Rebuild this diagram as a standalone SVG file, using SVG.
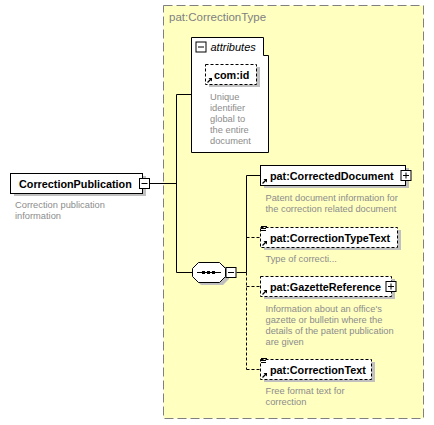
<svg xmlns="http://www.w3.org/2000/svg" width="434" height="425" viewBox="0 0 434 425">
<style>
.box{fill:#fff;stroke:#000;stroke-width:1}
.dbox{fill:#fff;stroke:#000;stroke-width:1;stroke-dasharray:3,2}
.sh{fill:#c0c0c0}
.nm{font-family:"Liberation Sans",Arial,sans-serif;font-weight:bold;font-size:10.8px;fill:#000}
.ds{font-family:"Liberation Sans",Arial,sans-serif;font-size:9.3px;fill:#8c8c8c}
.ln{fill:none;stroke:#000;stroke-width:1}
.dln{fill:none;stroke:#000;stroke-width:1;stroke-dasharray:3,2}
.ic{fill:none;stroke:#000;stroke-width:1}
</style>
<defs>
<g id="ref"><path d="M0.5,-0.5 L4,-4" stroke="#000" stroke-width="1.2" fill="none"/><path d="M1.5,-5 L5,-5 L5,-1.5 Z" fill="#000"/></g>
<g id="plus"><rect x="0.5" y="0.5" width="10" height="10" fill="#fff" stroke="#000"/><path d="M2.5,5.5 H8.5 M5.5,2.5 V8.5" stroke="#000" fill="none"/></g>
<g id="minus"><rect x="0.5" y="0.5" width="10" height="10" fill="#fff" stroke="#000"/><path d="M2.5,5.5 H8.5" stroke="#000" fill="none"/></g>
<g id="lst"><path d="M0,0.5 H6 M0,2.5 H5 M0,4.5 H5" stroke="#000" stroke-width="1" fill="none"/></g>
</defs>

<g id="complexType">
<rect x="163.5" y="5.5" width="260" height="413" fill="#ffffc0" stroke="#808080" stroke-dasharray="9,4"/>
<text x="169" y="21" font-family="'Liberation Sans',Arial,sans-serif" font-size="11.5px" fill="#808080">pat:CorrectionType</text>
</g>

<g id="connectors">
<path class="ln" d="M149.5,183.5 H176.5 M176.5,94.5 V272.5 M176.5,94.5 H192 M176.5,272.5 H192"/>
<path class="ln" d="M236.5,272.5 H246.5 M246.5,175.5 V272.5 M246.5,175.5 H261"/>
<path class="dln" d="M246.5,272.5 V369.5 M246.5,237.5 H261 M246.5,286.5 H261 M246.5,369.5 H261"/>
</g>

<g id="CorrectionPublication">
<rect class="sh" x="14" y="176" width="132" height="20"/>
<rect class="box" x="10.5" y="173.5" width="132" height="20"/>
<text class="nm" x="19" y="187.5">CorrectionPublication</text>
<use href="#minus" x="139" y="178"/>
<text class="ds" x="15" y="208">Correction publication</text>
<text class="ds" x="15" y="219">information</text>
</g>

<g id="attributes">
<path class="box" d="M191.5,37.5 H263.5 V55.5 H268.5 V152.5 H191.5 Z"/>
<use href="#minus" x="195.5" y="41.5"/>
<text x="210.5" y="50.5" font-family="'Liberation Sans',Arial,sans-serif" font-style="italic" font-size="11px" fill="#000">attributes</text>
</g>

<g id="com_id">
<rect class="sh" x="209" y="67" width="51" height="20"/>
<rect class="dbox" x="205.5" y="64.5" width="51" height="20"/>
<use href="#ref" x="207" y="83"/>
<text class="nm" x="214" y="78.5">com:id</text>
<text class="ds" x="210" y="100">Unique</text>
<text class="ds" x="210" y="111">identifier</text>
<text class="ds" x="210" y="122">global to</text>
<text class="ds" x="210" y="133">the entire</text>
<text class="ds" x="210" y="144">document</text>
</g>

<g id="sequence">
<path class="sh" d="M201,265 H223 L229,271 V279 L223,285 H201 L195,279 V271 Z"/>
<path class="box" d="M198.5,262.5 H219.5 L225.5,268.5 V276.5 L219.5,282.5 H198.5 L192.5,276.5 V268.5 Z"/>
<path d="M197,272.5 H221" stroke="#000" fill="none"/>
<rect x="202" y="271" width="3" height="3" fill="#000"/>
<rect x="207" y="271" width="3" height="3" fill="#000"/>
<rect x="212" y="271" width="3" height="3" fill="#000"/>
<use href="#minus" x="225.5" y="267"/>
</g>

<g id="CorrectedDocument">
<rect class="sh" x="264" y="168" width="145" height="20"/>
<rect class="box" x="260.5" y="165.5" width="145" height="20"/>
<use href="#ref" x="262" y="184"/>
<text class="nm" x="270" y="179.5">pat:CorrectedDocument</text>
<use href="#plus" x="400.5" y="170"/>
<text class="ds" x="265.5" y="200.5">Patent document information for</text>
<text class="ds" x="265.5" y="211.5">the correction related document</text>
</g>

<g id="CorrectionTypeText">
<rect class="sh" x="264" y="230" width="137" height="20"/>
<rect class="dbox" x="260.5" y="227.5" width="137" height="20"/>
<use href="#lst" x="261" y="226"/>
<use href="#ref" x="262" y="246"/>
<text class="nm" x="270" y="241.5">pat:CorrectionTypeText</text>
<text class="ds" x="265.5" y="262">Type of correcti...</text>
</g>

<g id="GazetteReference">
<rect class="sh" x="264" y="279" width="131" height="20"/>
<rect class="dbox" x="260.5" y="276.5" width="131" height="20"/>
<use href="#ref" x="262" y="295"/>
<text class="nm" x="270" y="290.5">pat:GazetteReference</text>
<use href="#plus" x="385.5" y="281"/>
<text class="ds" x="265.5" y="311.5">Information about an office's</text>
<text class="ds" x="265.5" y="322.5">gazette or bulletin where the</text>
<text class="ds" x="265.5" y="333.5">details of the patent publication</text>
<text class="ds" x="265.5" y="344.5">are given</text>
</g>

<g id="CorrectionText">
<rect class="sh" x="264" y="362" width="111" height="20"/>
<rect class="dbox" x="260.5" y="359.5" width="111" height="20"/>
<use href="#lst" x="261" y="358"/>
<use href="#ref" x="262" y="378"/>
<text class="nm" x="270" y="373.5">pat:CorrectionText</text>
<text class="ds" x="265.5" y="394">Free format text for</text>
<text class="ds" x="265.5" y="405">correction</text>
</g>
</svg>
